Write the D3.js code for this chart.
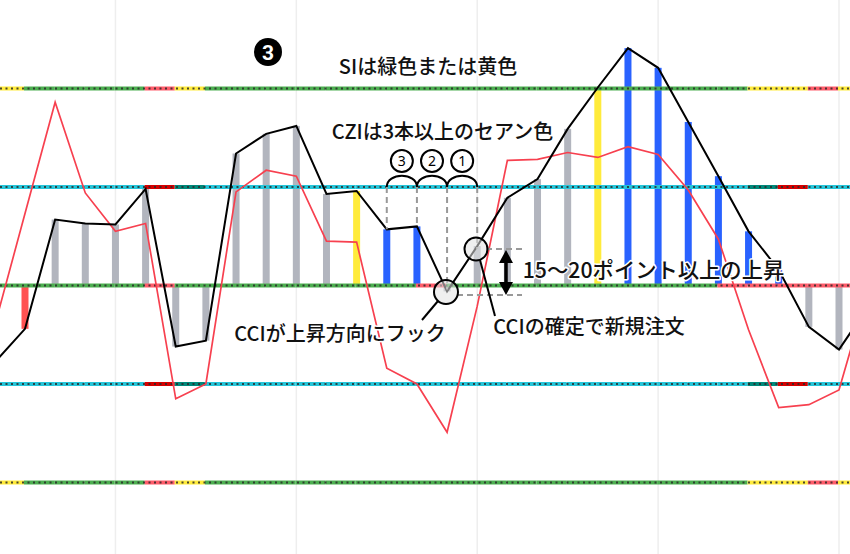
<!DOCTYPE html>
<html><head><meta charset="utf-8">
<script src="https://cdn.jsdelivr.net/npm/d3@7"></script>
<style>
html,body{margin:0;padding:0;background:#fff;}
svg{display:block;font-family:"Noto Sans CJK JP","Noto Sans",sans-serif;}
</style>
</head><body>
<svg id="chart" width="850" height="554"></svg>
<script>
// ---- data ----
const idx = [-1,0,1,2,3,4,5,6,7,8,9,10,11,12,13,14,15,16,17,18,19,20,21,22,23,24,25,26,27,28];
const cci = [-78,-44,67,63,62,98,-62,-56,134,154,162,93,96,57,60,-6,40,89,108,159,201,241,221,166,111,55,16,-42,-65,-20];
const tcci = [-40,73,186,94,55,63,-115,-100,95,117,111,45,44,-84,-100,-149,-21,127,128,135,130,141,133,97,47,-45,-124,-121,-106,0];
const barIdx = [0,1,2,3,4,5,6,7,8,9,10,11,12,13,14,15,16,17,18,19,20,21,22,23,24,25,26,27];
const barState = ['red','gray','gray','gray','gray','gray','gray','gray','gray','gray','gray','yellow','blue','blue','gray','gray','gray','gray','gray','yellow','blue','blue','blue','blue','blue','blue','gray','gray'];
const segIdx = [-1,0,1,2,3,4,5,6,7,8,9,10,11,12,13,14,15,16,17,18,19,20,21,22,23,24,25,26,27];
const siState = ['yellow','green','green','green','green','red','yellow','green','green','green','green','green','green','green','green','green','green','green','green','green','green','green','green','green','green','yellow','yellow','red','yellow'];
const zeroState = ['green','green','green','green','green','red','green','green','green','green','green','green','green','green','red','green','green','green','green','green','green','green','green','green','red','red','red','red','red'];
const hundredState = ['cyan','cyan','cyan','cyan','cyan','darkred','teal','cyan','cyan','cyan','cyan','cyan','cyan','cyan','cyan','cyan','cyan','cyan','cyan','cyan','cyan','cyan','cyan','cyan','cyan','teal','darkred','cyan','cyan'];
const levels = [200,100,0,-100,-200];
const gridIdx = [3,9,15,21,27];

// ---- styles ----
const barCol = {red:'#ff5252', gray:'#b2b5be', yellow:'#ffeb3b', blue:'#2962ff'};
const segCol = {yellow:'#ffeb3b', green:'#4caf50', red:'#ff5c6a', cyan:'#26c6da', darkred:'#d50000', teal:'#00897b'};

const svg = d3.select('#chart');
const W = 850, H = 554;
const x = d3.scaleLinear().domain([0,27]).range([25,839]);
const y = d3.scaleLinear().domain([-200,200]).range([482.5,88.5]);

svg.append('defs').append('clipPath').attr('id','clip')
  .append('rect').attr('x',0).attr('y',0).attr('width',W).attr('height',H);
const g = svg.append('g').attr('clip-path','url(#clip)');

// grid
g.selectAll('.grid').data(gridIdx).join('line')
  .attr('x1',d=>x(d)).attr('x2',d=>x(d)).attr('y1',0).attr('y2',H)
  .attr('stroke','#eeeeee').attr('stroke-width',1.5);

// bars
g.selectAll('.bar').data(barIdx).join('rect')
  .attr('x',d=>x(d)-3.5).attr('width',7)
  .attr('y',d=>Math.min(y(cci[d+1]),y(0)))
  .attr('height',d=>Math.abs(y(cci[d+1])-y(0)))
  .attr('fill',(d,i)=>barCol[barState[i]]);

// level lines
levels.forEach(lv=>{
  const st = Math.abs(lv)===200 ? siState : (lv===0 ? zeroState : hundredState);
  g.selectAll(null).data(segIdx).join('line')
    .attr('x1',d=>x(d)-1).attr('x2',d=>x(d+1)-1)
    .attr('y1',y(lv)).attr('y2',y(lv))
    .attr('stroke',(d,i)=>segCol[st[i]]).attr('stroke-width',4);
  g.append('line').attr('x1',0).attr('x2',W).attr('y1',y(lv)).attr('y2',y(lv))
    .attr('stroke','#2a2a2a').attr('stroke-opacity',0.85).attr('stroke-width',2)
    .attr('stroke-dasharray','2,3.5');
});

// lines
const line = d3.line().x(d=>x(d[0])).y(d=>y(d[1]));
g.append('path').datum(idx.map((d,i)=>[d,tcci[i]])).attr('d',line)
  .attr('fill','none').attr('stroke','#f7404f').attr('stroke-width',1.7);
g.append('path').datum(idx.map((d,i)=>[d,cci[i]])).attr('d',line)
  .attr('fill','none').attr('stroke','#000').attr('stroke-width',2).attr('stroke-linejoin','miter');

// ---- annotations ----
const ann = svg.append('g');
const yH = y(100);
// dashed verticals
[[12, y(cci[13])],[13, y(cci[14])],[14, y(cci[15])-2],[15, 249]].forEach(([i,yb])=>{
  ann.append('line').attr('x1',x(i)).attr('x2',x(i)).attr('y1',yH).attr('y2',yb)
    .attr('stroke','#999').attr('stroke-width',2).attr('stroke-dasharray','6,4');
});
// dashed horizontals
ann.append('line').attr('x1',486).attr('x2',522).attr('y1',249).attr('y2',249)
  .attr('stroke','#999').attr('stroke-width',2).attr('stroke-dasharray','6,4');
ann.append('line').attr('x1',457).attr('x2',522).attr('y1',295).attr('y2',295)
  .attr('stroke','#999').attr('stroke-width',2).attr('stroke-dasharray','6,4');

// arcs (braces)
[12,13,14].forEach(i=>{
  const a = x(i), b = x(i+1);
  ann.append('path').attr('d',`M${a},${yH} C${a},${yH-15} ${b},${yH-15} ${b},${yH}`)
    .attr('fill','none').attr('stroke','#000').attr('stroke-width',2);
});
// numbered circles
[['3',12],['2',13],['1',14]].forEach(([t,i])=>{
  const cx = (x(i)+x(i+1))/2;
  ann.append('circle').attr('cx',cx).attr('cy',161).attr('r',11)
    .attr('fill','#fff').attr('stroke','#000').attr('stroke-width',2);
  ann.append('text').attr('x',cx).attr('y',166).attr('text-anchor','middle')
    .attr('font-size',14).attr('font-family','Noto Sans, sans-serif').attr('fill','#000').text(t);
});

// leader lines
ann.append('line').attr('x1',438).attr('y1',301).attr('x2',422).attr('y2',320)
  .attr('stroke','#000').attr('stroke-width',2);
ann.append('line').attr('x1',480).attr('y1',260).attr('x2',495).attr('y2',316)
  .attr('stroke','#000').attr('stroke-width',2);

// highlight circles
[[446,292,12],[476,249,11.5]].forEach(([cx,cy,r])=>{
  ann.append('circle').attr('cx',cx).attr('cy',cy).attr('r',r)
    .attr('fill','rgba(225,225,225,0.55)').attr('stroke','#000').attr('stroke-width',2);
});

// double arrow
ann.append('line').attr('x1',506).attr('x2',506).attr('y1',260).attr('y2',284)
  .attr('stroke','#000').attr('stroke-width',3.5);
ann.append('path').attr('d','M506,250 L513,263 L499,263 Z').attr('fill','#000');
ann.append('path').attr('d','M506,295 L513,282 L499,282 Z').attr('fill','#000');

// badge
ann.append('circle').attr('cx',268).attr('cy',52).attr('r',14).attr('fill','#000');
ann.append('text').attr('x',268).attr('y',59.5).attr('text-anchor','middle')
  .attr('font-size',21).attr('font-weight',700).attr('font-family','Roboto, sans-serif')
  .attr('fill','#fff').text('3');

// texts
const texts = [
  ['SIは緑色または黄色',428,73.5,20],
  ['CZIは3本以上のセアン色',442.5,138.5,20],
  ['15〜20ポイント以上の上昇',653.5,277.5,21.3],
  ['CCIが上昇方向にフック',340,340.5,20],
  ['CCIの確定で新規注文',589,333.5,20]
];
texts.forEach(([t,tx,ty,fs])=>{
  ann.append('text').attr('x',tx).attr('y',ty).attr('text-anchor','middle')
    .attr('font-size',fs).attr('font-weight',500).attr('fill','#111')
    .attr('stroke','#fff').attr('stroke-width',3).attr('paint-order','stroke')
    .attr('stroke-linejoin','round').text(t);
});
</script>
</body></html>
